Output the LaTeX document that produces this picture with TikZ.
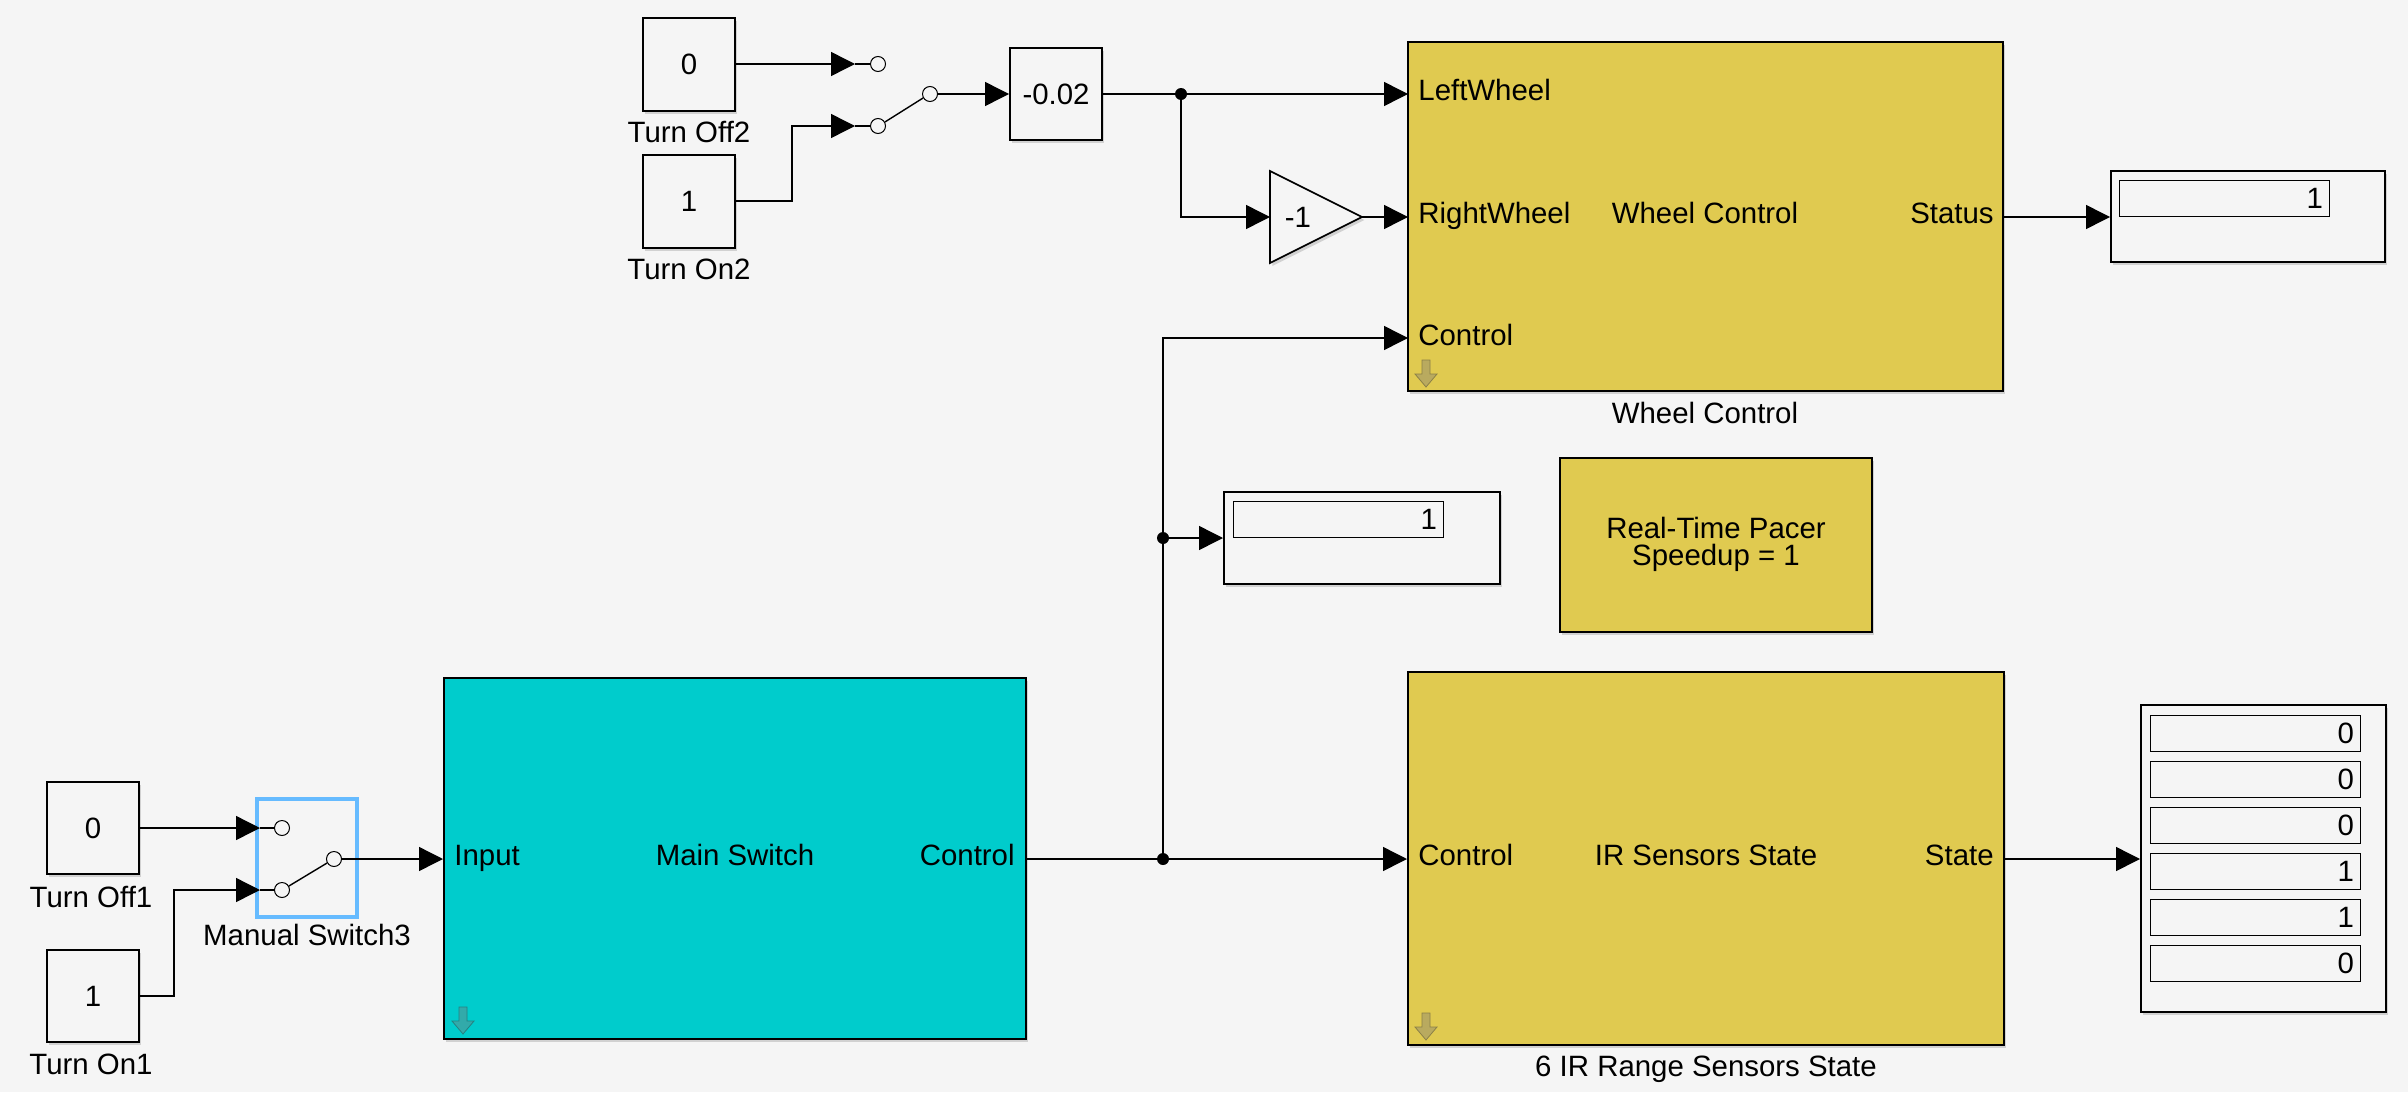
\documentclass[tikz,border=0pt]{standalone}
\usepackage{fontspec}
\setmainfont{Liberation Sans}
\usetikzlibrary{arrows.meta,shadows}
\definecolor{bg}{RGB}{245,245,245}
\definecolor{wcyel}{RGB}{224,202,80}
\definecolor{mscyan}{RGB}{0,204,204}
\definecolor{selblue}{RGB}{102,187,255}
\definecolor{iconyel}{RGB}{185,170,95}
\definecolor{iconcyan}{RGB}{50,170,170}
\newcommand{\simfont}{\fontsize{14.7pt}{17pt}\selectfont}
\begin{document}
\begin{tikzpicture}[x=0.5pt, y=-0.5pt, font=\simfont,
    blk/.style={draw, line width=1pt, fill=bg, inner sep=0pt,
        drop shadow={shadow xshift=1.2pt, shadow yshift=-1.5pt, opacity=.3}},
    sub/.style={blk, fill=wcyel},
    sig/.style={line width=0.7pt, -{Triangle[length=12pt,width=12pt]}},
    wire/.style={line width=0.7pt},
    cont/.style={circle, draw, line width=0.5pt, fill=bg, minimum size=7.5pt, inner sep=0pt},
    dot/.style={circle, fill, minimum size=6pt, inner sep=0pt},
    lab/.style={inner sep=0pt},
    cell/.style={draw, line width=0.5pt, fill=bg, inner xsep=3pt, inner ysep=0pt,
        text width=99pt, minimum height=18pt, align=right}]
    \fill[bg] (0,0) rectangle (2408,1092);
    \useasboundingbox (0,0) rectangle (2408,1092);
    % TOP SOURCES
    \node[blk, minimum width=46pt, minimum height=46.5pt] (off2) at (689,64) {0};
    \node[blk, minimum width=46pt, minimum height=46.5pt] (on2) at (689,201) {1};
    \node[lab, anchor=base] (off2l) at (689,142) {Turn Off2};
    \node[lab, anchor=base] (on2l) at (689,279) {Turn On2};
    \coordinate (p2a) at (855,64);
    \coordinate (p2b) at (855,126);
    \node[cont] (c2a) at (878,64) {};
    \node[cont] (c2b) at (878,126) {};
    \node[cont] (c2o) at (930,94) {};
    \coordinate (q2) at (948,94);
    \node[blk, minimum width=46pt, minimum height=46pt] (gain) at (1056,94) {-0.02};
    \node[dot] (dA) at (1181,94) {};
    \filldraw[fill=bg, line width=0.8pt, drop shadow={shadow xshift=1.2pt, shadow yshift=-1.5pt, opacity=.3}]
        (1270,171) -- (1362,217) -- (1270,263) -- cycle;
    \node[lab] (neg) at (1298,217) {-1};
    \coordinate (triI) at (1270,217);
    \coordinate (triO) at (1362,217);
    % WHEEL CONTROL
    \node[sub, minimum width=297.5pt, minimum height=174.5pt] (wc) at (1705.5,216.5) {};
    \coordinate (wcL) at (1408,94);
    \coordinate (wcR) at (1408,217);
    \coordinate (wcC) at (1408,338);
    \coordinate (wcS) at (2003,217);
    \node[lab, anchor=base west] (wcl1) at (1418,100) {LeftWheel};
    \node[lab, anchor=base west] (wcl2) at (1418,223) {RightWheel};
    \node[lab, anchor=base west] (wcl3) at (1418,345) {Control};
    \node[lab, anchor=base east] (wcl4) at (1994,223) {Status};
    \node[lab, anchor=base] (wcm) at (1705,223) {Wheel Control};
    \node[lab, anchor=base] (wcn) at (1705,423) {Wheel Control};
    \node[blk, minimum width=137pt, minimum height=45.5pt] (dispS) at (2248,216.5) {};
    \node[cell] (cellS) at (2224,198.5) {1};
    % DISPLAY AND PACER
    \node[blk, minimum width=138pt, minimum height=46pt] (disp1) at (1362,538) {};
    \node[cell] (cell1) at (1338,519) {1};
    \node[sub, minimum width=156pt, minimum height=87pt] (pacer) at (1716,545) {};
    \node[lab, anchor=base] (pac1) at (1716,538) {Real-Time Pacer};
    \node[lab, anchor=base] (pac2) at (1716,565) {Speedup = 1};
    % BOTTOM SOURCES
    \node[blk, minimum width=46pt, minimum height=46pt] (off1) at (93,828) {0};
    \node[blk, minimum width=46pt, minimum height=46pt] (on1) at (93,996) {1};
    \node[lab, anchor=base] (off1l) at (91,907) {Turn Off1};
    \node[lab, anchor=base] (on1l) at (91,1074) {Turn On1};
    \node[draw=selblue, line width=2pt, minimum width=50pt, minimum height=59pt, inner sep=0pt] (sw3) at (307,858) {};
    \node[lab, anchor=base] (sw3l) at (307,945) {Manual Switch3};
    \coordinate (p3a) at (260,828);
    \coordinate (p3b) at (260,890);
    \node[cont] (c3a) at (282,828) {};
    \node[cont] (c3b) at (282,890) {};
    \node[cont] (c3o) at (334,859) {};
    \coordinate (q3) at (353,859);
    % MAIN SWITCH
    \node[blk, fill=mscyan, minimum width=291pt, minimum height=180.5pt] (ms) at (735,858.5) {};
    \node[lab, anchor=base west] (msl1) at (454,865) {Input};
    \node[lab, anchor=base] (msm) at (735,865) {Main Switch};
    \node[lab, anchor=base east] (msl2) at (1015,865) {Control};
    \node[dot] (dB) at (1163,859) {};
    \node[dot] (dC) at (1163,538) {};
    % IR SENSORS
    \node[sub, minimum width=298pt, minimum height=186.5pt] (ir) at (1706,858.5) {};
    \coordinate (irS) at (2004,859);
    \node[lab, anchor=base west] (irl1) at (1418,865) {Control};
    \node[lab, anchor=base] (irm) at (1706,865) {IR Sensors State};
    \node[lab, anchor=base east] (irl2) at (1994,865) {State};
    \node[lab, anchor=base] (irn) at (1706,1076) {6 IR Range Sensors State};
    \node[blk, minimum width=122.5pt, minimum height=153.5pt] (dispIR) at (2263.5,858.5) {};
    \foreach \i/\v in {0/0,1/0,2/0,3/1,4/1,5/0}
        \node[cell] (row\i) at (2255,{733+46*\i}) {\v};
    % ICONS
    \foreach \x/\y/\c in {1426/360/iconyel,1426/1013/iconyel,463/1007/iconcyan}
        \filldraw[draw=\c!75!black, fill=\c, line width=0.4pt, shift={(\x,\y)}]
            (-4,0) -- (4,0) -- (4,14) -- (11,14) -- (0,27) -- (-11,14) -- (-4,14) -- cycle;
    % SIGNALS
    \draw[sig] (off2.east) -- (p2a);
    \draw[sig] (on2.east) -- ++(56,0) |- (p2b);
    \draw[wire] (p2a) -- (c2a);
    \draw[wire] (p2b) -- (c2b);
    \draw[wire] (c2b.30) -- (c2o.210);
    \draw[wire] (c2o.east) -- (q2);
    \draw[sig] (q2) -- (gain.west);
    \draw[wire] (gain.east) -- (dA);
    \draw[sig] (dA) -- (wcL);
    \draw[sig] (dA) |- (triI);
    \draw[sig] (triO) -- (wcR);
    \draw[sig] (wcS) -- (dispS.west |- wcS);
    \draw[sig] (off1.east) -- (p3a);
    \draw[sig] (on1.east) -- ++(34,0) |- (p3b);
    \draw[wire] (p3a) -- (c3a);
    \draw[wire] (p3b) -- (c3b);
    \draw[wire] (c3b.30) -- (c3o.210);
    \draw[wire] (c3o.east) -- (q3);
    \draw[sig] (q3) -- (ms.west |- q3);
    \draw[wire] (ms.east |- dB) -- (dB);
    \draw[sig] (dB) -- (ir.west |- dB);
    \draw[sig] (dB) |- (wcC);
    \draw[sig] (dC) -- (disp1.west |- dC);
    \draw[sig] (irS) -- (dispIR.west |- irS);
\end{tikzpicture}
\end{document}
